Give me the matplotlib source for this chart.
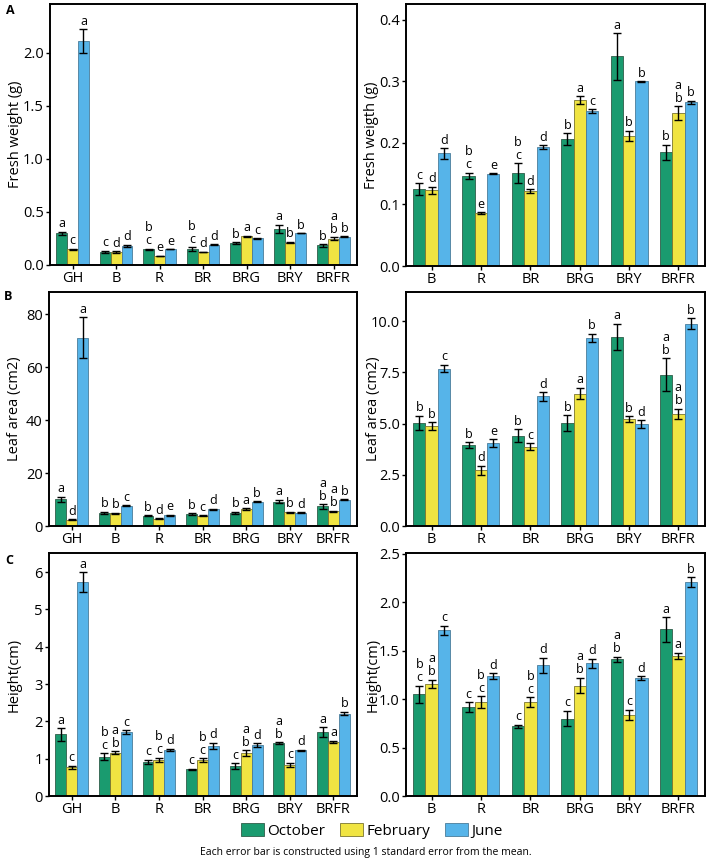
import numpy as np
import matplotlib
matplotlib.use("Agg")
import matplotlib.pyplot as plt
from matplotlib.patches import Patch

plt.rcParams['font.family'] = ['Open Sans', 'DejaVu Sans']

# treatments
groups_all = ['GH', 'B', 'R', 'BR', 'BRG', 'BRY', 'BRFR']
groups_sub = ['B', 'R', 'BR', 'BRG', 'BRY', 'BRFR']
seasons = ['October', 'February', 'June']
colors = ['#1a9b6f', '#f0e442', '#56b4e9']
edges = ['#2f5e4a', '#7a7530', '#4a7c9a']

# GH values (only in left panels)
fw_gh = [0.30, 0.15, 2.11]
fw_gh_err = [0.015, 0.005, 0.11]
la_gh = [10.1, 2.3, 71.1]
la_gh_err = [0.9, 0.2, 7.7]
ht_gh = [1.65, 0.77, 5.73]
ht_gh_err = [0.17, 0.04, 0.26]

# fresh weight (g): rows = B, R, BR, BRG, BRY, BRFR ; cols = Oct, Feb, Jun
fw = [[0.125, 0.123, 0.183],
      [0.147, 0.086, 0.150],
      [0.151, 0.122, 0.193],
      [0.206, 0.270, 0.252],
      [0.341, 0.212, 0.300],
      [0.185, 0.249, 0.266]]
fw_err = [[0.010, 0.006, 0.009],
          [0.005, 0.001, 0.0005],
          [0.016, 0.003, 0.003],
          [0.010, 0.006, 0.003],
          [0.038, 0.008, 0.0005],
          [0.012, 0.011, 0.003]]
fw_gh_let = ['a', 'c', 'a']
fw_let = [['c', 'd', 'd'], ['bc', 'e', 'e'], ['bc', 'd', 'd'],
          ['b', 'a', 'c'], ['a', 'b', 'b'], ['b', 'ab', 'b']]

# leaf area (cm2)
la = [[5.04, 4.88, 7.69],
      [3.95, 2.72, 4.05],
      [4.41, 3.87, 6.33],
      [5.02, 6.47, 9.19],
      [9.24, 5.22, 4.98],
      [7.40, 5.48, 9.89]]
la_err = [[0.35, 0.18, 0.18],
          [0.15, 0.22, 0.20],
          [0.32, 0.16, 0.20],
          [0.38, 0.28, 0.20],
          [0.65, 0.15, 0.18],
          [0.80, 0.25, 0.25]]
la_gh_let = ['a', 'd', 'a']
la_let = [['b', 'b', 'c'], ['b', 'd', 'e'], ['b', 'c', 'd'],
          ['b', 'a', 'b'], ['a', 'b', 'd'], ['ab', 'ab', 'b']]

# height (cm)
ht = [[1.05, 1.16, 1.71],
      [0.92, 0.97, 1.24],
      [0.72, 0.97, 1.35],
      [0.80, 1.14, 1.37],
      [1.41, 0.84, 1.22],
      [1.72, 1.45, 2.21]]
ht_err = [[0.09, 0.04, 0.05],
          [0.05, 0.06, 0.03],
          [0.015, 0.05, 0.08],
          [0.08, 0.08, 0.05],
          [0.03, 0.05, 0.02],
          [0.13, 0.03, 0.05]]
ht_gh_let = ['a', 'c', 'a']
ht_let = [['bc', 'ab', 'c'], ['c', 'bc', 'd'], ['c', 'bc', 'd'],
          ['c', 'ab', 'd'], ['ab', 'c', 'd'], ['a', 'a', 'b']]


def draw_panel(ax, names, vals, errs, lets, ymax, yticks, yticklabels, ylabel, labx):
    vals = np.array(vals)
    errs = np.array(errs)
    x = np.arange(len(names))
    w = 0.25
    for j in range(3):
        xs = x + (j - 1) * w
        ax.bar(xs, vals[:, j], w, color=colors[j], edgecolor=edges[j], linewidth=0.6, zorder=2)
        ax.errorbar(xs, vals[:, j], yerr=errs[:, j], fmt='none', ecolor='black',
                    elinewidth=1.0, capsize=3.2, capthick=1.0, zorder=3)
        for i in range(len(names)):
            ax.annotate('\n'.join(lets[i][j]), (xs[i], vals[i, j] + errs[i, j]),
                        xytext=(0, 1), textcoords='offset points', ha='center', va='bottom',
                        fontsize=9, linespacing=1.0, zorder=4)
    ax.set_xlim(-0.52, len(names) - 0.46)
    ax.set_ylim(0, ymax)
    ax.set_xticks(x)
    ax.set_xticklabels(names, fontsize=10.5)
    ax.set_yticks(yticks)
    ax.set_yticklabels(yticklabels, fontsize=10.5)
    ax.set_ylabel(ylabel, fontsize=10.5)
    ax.yaxis.set_label_coords(labx, 0.5)
    ax.tick_params(axis='both', length=3, width=1, pad=1.5)
    for s in ax.spines.values():
        s.set_linewidth(1.4)


fig = plt.figure(figsize=(7.08, 8.6), dpi=100)

W, H = 708, 860
def ax_px(x0, y0, x1, y1):
    return fig.add_axes([x0 / W, 1 - y1 / H, (x1 - x0) / W, (y1 - y0) / H])

axA1 = ax_px(50, 4, 357, 265)
axA2 = ax_px(406, 4, 705, 266)
axB1 = ax_px(49, 292, 357, 526)
axB2 = ax_px(406, 292, 705, 526)
axC1 = ax_px(49, 553, 357, 796)
axC2 = ax_px(406, 553, 705, 796)

draw_panel(axA1, groups_all, [fw_gh] + fw, [fw_gh_err] + fw_err, [fw_gh_let] + fw_let,
           2.46, [0, 0.5, 1.0, 1.5, 2.0], ['0.0', '0.5', '1.0', '1.5', '2.0'],
           'Fresh weight (g)', -0.088)
draw_panel(axA2, groups_sub, fw, fw_err, fw_let,
           0.426, [0, 0.1, 0.2, 0.3, 0.4], ['0.0', '0.1', '0.2', '0.3', '0.4'],
           'Fresh weigth (g)', -0.09)
draw_panel(axB1, groups_all, [la_gh] + la, [la_gh_err] + la_err, [la_gh_let] + la_let,
           88.4, [0, 20, 40, 60, 80], ['0', '20', '40', '60', '80'],
           'Leaf area (cm2)', -0.088)
draw_panel(axB2, groups_sub, la, la_err, la_let,
           11.43, [0, 2.5, 5.0, 7.5, 10.0], ['0.0', '2.5', '5.0', '7.5', '10.0'],
           'Leaf area (cm2)', -0.084)
draw_panel(axC1, groups_all, [ht_gh] + ht, [ht_gh_err] + ht_err, [ht_gh_let] + ht_let,
           6.51, [0, 1, 2, 3, 4, 5, 6], ['0', '1', '2', '3', '4', '5', '6'],
           'Height(cm)', -0.088)
draw_panel(axC2, groups_sub, ht, ht_err, ht_let,
           2.51, [0, 0.5, 1.0, 1.5, 2.0, 2.5], ['0.0', '0.5', '1.0', '1.5', '2.0', '2.5'],
           'Height(cm)', -0.084)

# panel letters
for lab, (px, py) in zip(['A', 'B', 'C'], [(6, 10), (4, 297), (5, 560)]):
    fig.text(px / W, 1 - py / H, lab, fontsize=9, fontweight='bold', va='center', ha='left')

handles = [Patch(facecolor=colors[j], edgecolor=edges[j], linewidth=0.6, label=seasons[j]) for j in range(3)]
fig.legend(handles=handles, loc='center', bbox_to_anchor=(372 / W, 1 - 831 / H), ncol=3,
           frameon=False, fontsize=11, handlelength=1.5, handleheight=0.9, handletextpad=0.2,
           columnspacing=1.0, borderpad=0)

fig.text(366 / W, 1 - 852 / H, 'Each error bar is constructed using 1 standard error from the mean.',
         fontsize=7.5, ha='center', va='center')

fig.savefig('out.png', dpi=100)
